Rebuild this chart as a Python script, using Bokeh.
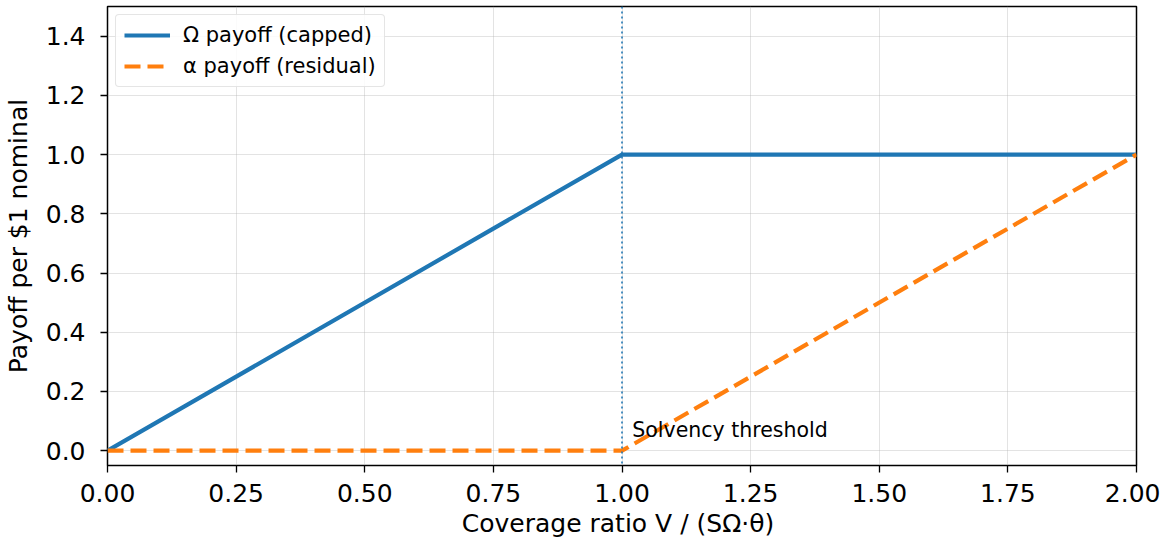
from bokeh.plotting import figure
from bokeh.models import Range1d, FixedTicker, NumeralTickFormatter, Legend, LegendItem, Span, Label
from bokeh.embed import file_html
from bokeh.resources import INLINE

x = [0.0, 1.0, 2.0]
omega_payoff = [0.0, 1.0, 1.0]
alpha_payoff = [0.0, 0.0, 1.0]
threshold = 1.0
x_ticks = [0.0, 0.25, 0.5, 0.75, 1.0, 1.25, 1.5, 1.75, 2.0]
y_ticks = [0.0, 0.2, 0.4, 0.6, 0.8, 1.0, 1.2, 1.4]

FONT = "DejaVu Sans"

p = figure(width=1160, height=540, output_backend="svg", toolbar_location=None,
           x_range=Range1d(0, 2), y_range=Range1d(-0.05, 1.5))
p.min_border_left = 105
p.min_border_right = 24
p.min_border_top = 6
p.min_border_bottom = 75
p.outline_line_color = "black"
p.outline_line_width = 1.5
p.background_fill_color = "white"

for ax in (p.xaxis[0], p.yaxis[0]):
    ax.axis_line_color = None
    ax.major_tick_line_color = "black"
    ax.major_tick_line_width = 1.3
    ax.major_tick_out = 7
    ax.major_tick_in = 0
    ax.minor_tick_line_color = None
    ax.major_label_text_font = FONT
    ax.major_label_text_font_size = "25px"
    ax.major_label_text_color = "black"
    ax.axis_label_text_font = FONT
    ax.axis_label_text_font_size = "25px"
    ax.axis_label_text_font_style = "normal"
    ax.axis_label_text_color = "black"

p.xaxis.ticker = FixedTicker(ticks=x_ticks)
p.yaxis.ticker = FixedTicker(ticks=y_ticks)
p.xaxis.formatter = NumeralTickFormatter(format="0.00")
p.yaxis.formatter = NumeralTickFormatter(format="0.0")
p.xaxis.axis_label = "Coverage ratio  V / (SΩ·θ)"
p.yaxis.axis_label = "Payoff per $1 nominal"
p.xaxis.major_label_standoff = 11
p.yaxis.major_label_standoff = 15
p.xaxis.axis_label_standoff = 4
p.yaxis.axis_label_standoff = 10

p.grid.grid_line_color = "#b0b0b0"
p.grid.grid_line_alpha = 0.35
p.grid.grid_line_width = 1

r1 = p.line(x, omega_payoff, line_color="#1f77b4", line_width=4.2)
r2 = p.line(x, alpha_payoff, line_color="#ff7f0e", line_width=4.2, line_dash="16 7")

vline = Span(location=threshold, dimension="height", line_color="#1f77b4",
             line_width=1.6, line_dash="2 3")
p.add_layout(vline)

lab = Label(x=threshold + 0.02, y=0.07, text="Solvency threshold",
            text_font=FONT, text_font_size="20.5px", text_color="black",
            text_baseline="alphabetic")
p.add_layout(lab)

legend = Legend(items=[LegendItem(label="Ω payoff (capped)", renderers=[r1]),
                       LegendItem(label="α payoff (residual)", renderers=[r2])],
                location="top_left")
legend.label_text_font = FONT
legend.label_text_font_size = "21px"
legend.label_text_color = "black"
legend.glyph_width = 46
legend.glyph_height = 24
legend.label_standoff = 13
legend.spacing = 7
legend.padding = 8
legend.margin = 8
legend.border_line_color = "#cccccc"
legend.border_line_width = 1.5
legend.border_radius = 4
legend.background_fill_alpha = 0.85
p.add_layout(legend)

open("out.html", "w").write(file_html(p, INLINE))
